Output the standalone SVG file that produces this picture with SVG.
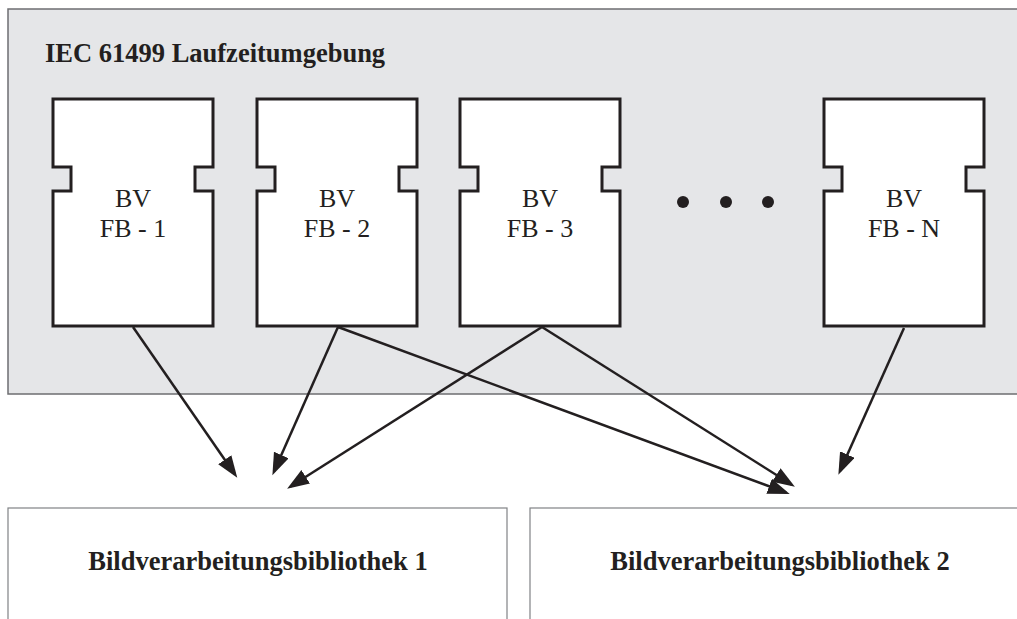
<svg xmlns="http://www.w3.org/2000/svg" width="1017" height="619" viewBox="0 0 1017 619">
  <style>
    .runtime { fill: #e5e6e8; stroke: #6d6e71; stroke-width: 1.5; }
    .fb { fill: #ffffff; stroke: #231f20; stroke-width: 3; }
    .lib { fill: #ffffff; stroke: #808285; stroke-width: 1.2; }
    .label { font-family: "Liberation Serif", "Times New Roman", serif; fill: #231f20; }
    .fbtext { font-size: 26px; text-anchor: middle; }
    .bold { font-size: 26.5px; font-weight: bold; }
    .edge { stroke: #231f20; stroke-width: 2.5; fill: none; marker-end: url(#arrow); }
    .dot { fill: #231f20; }
  </style>
  <defs>
    <marker id="arrow" markerUnits="userSpaceOnUse" markerWidth="24" markerHeight="18" refX="18" refY="8" orient="auto">
      <path d="M0,0 L22,8 L0,16 Z" fill="#231f20"/>
    </marker>
  </defs>

  <!-- runtime environment container -->
  <g id="runtime">
    <rect class="runtime" x="8" y="9" width="1020" height="385"/>
    <text class="label bold" x="45" y="62">IEC 61499 Laufzeitumgebung</text>
  </g>

  <!-- function blocks -->
  <g id="fb1">
    <path class="fb" d="M53,99 H213 V167 H195 V191 H213 V326 H53 V191 H71 V167 H53 Z"/>
    <text class="label fbtext" x="133" y="207">BV</text>
    <text class="label fbtext" x="133" y="237">FB - 1</text>
  </g>
  <g id="fb2">
    <path class="fb" d="M257,99 H417 V167 H399 V191 H417 V326 H257 V191 H275 V167 H257 Z"/>
    <text class="label fbtext" x="337" y="207">BV</text>
    <text class="label fbtext" x="337" y="237">FB - 2</text>
  </g>
  <g id="fb3">
    <path class="fb" d="M460,99 H620 V167 H602 V191 H620 V326 H460 V191 H478 V167 H460 Z"/>
    <text class="label fbtext" x="540" y="207">BV</text>
    <text class="label fbtext" x="540" y="237">FB - 3</text>
  </g>
  <g id="ellipsis">
    <circle class="dot" cx="683" cy="202" r="6"/>
    <circle class="dot" cx="726" cy="202" r="6"/>
    <circle class="dot" cx="768" cy="202" r="6"/>
  </g>
  <g id="fbN">
    <path class="fb" d="M824,99 H984 V167 H966 V191 H984 V326 H824 V191 H842 V167 H824 Z"/>
    <text class="label fbtext" x="904" y="207">BV</text>
    <text class="label fbtext" x="904" y="237">FB - N</text>
  </g>

  <!-- image processing libraries -->
  <g id="lib1">
    <rect class="lib" x="8" y="508" width="499" height="130"/>
    <text class="label bold" x="258" y="570" text-anchor="middle">Bildverarbeitungsbibliothek 1</text>
  </g>
  <g id="lib2">
    <rect class="lib" x="530" y="508" width="500" height="130"/>
    <text class="label bold" x="780" y="570" text-anchor="middle">Bildverarbeitungsbibliothek 2</text>
  </g>

  <!-- usage connectors -->
  <g id="connectors">
    <line class="edge" x1="133" y1="327" x2="235" y2="474.5"/>
    <line class="edge" x1="338" y1="327" x2="274" y2="471.5"/>
    <line class="edge" x1="542" y1="327" x2="290.5" y2="486.5"/>
    <line class="edge" x1="338" y1="327" x2="786" y2="492.5"/>
    <line class="edge" x1="542" y1="327" x2="791.5" y2="484.5"/>
    <line class="edge" x1="904" y1="328" x2="840" y2="471"/>
  </g>
</svg>
